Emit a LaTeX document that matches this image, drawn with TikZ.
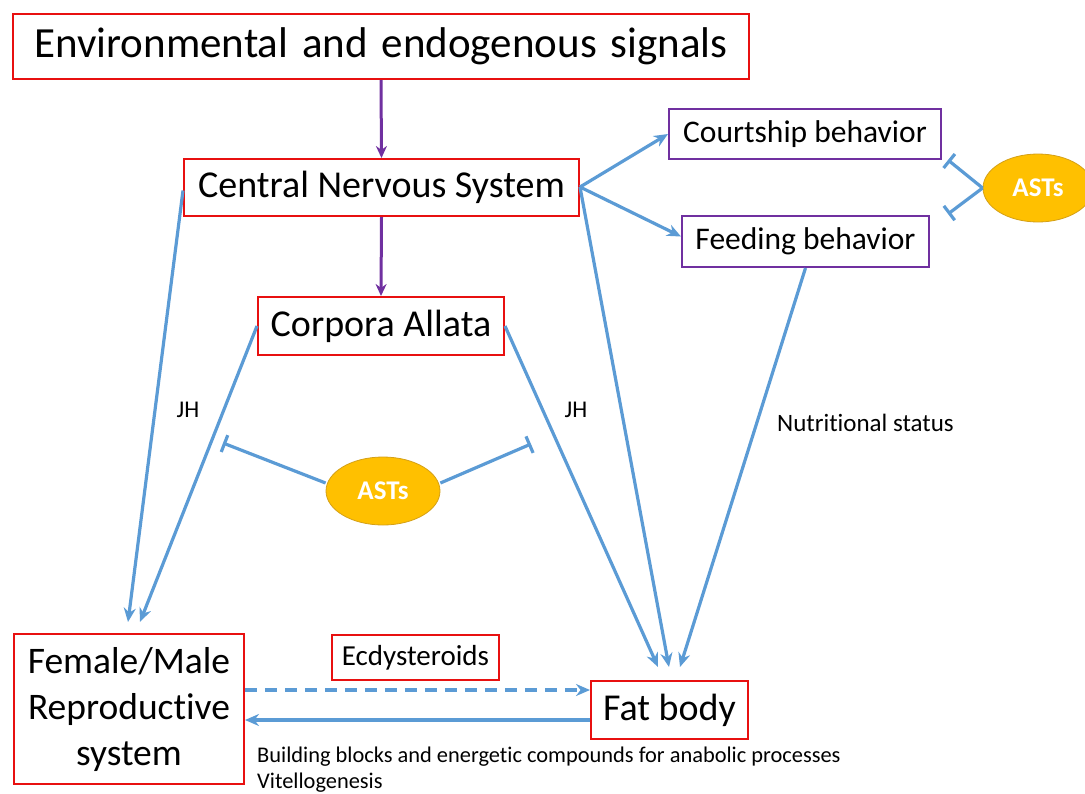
\documentclass[tikz,border=0pt]{standalone}
\usepackage{fontspec}
\setmainfont{Carlito}[Ligatures=NoCommon]
\usetikzlibrary{arrows.meta,shapes.geometric}
\definecolor{rbox}{HTML}{E81010}
\definecolor{pbox}{HTML}{7030A0}
\definecolor{bl}{HTML}{5B9BD5}
\definecolor{gold}{HTML}{FFC000}
\definecolor{goldd}{HTML}{D4A017}
\tikzset{
 redbox/.style={draw=rbox,line width=2pt,inner sep=0pt,anchor=north west},
 purbox/.style={draw=pbox,line width=2pt,inner sep=0pt,anchor=north west},
 asts/.style={ellipse,fill=gold,draw=goldd,line width=0.8pt,minimum width=#1,minimum height=68pt,inner sep=0pt,text=white,font=\bfseries\fontsize{27}{30}\selectfont},
 barr/.style={bl,line width=3.2pt,-{Stealth[length=14pt,width=12pt]}},
 purr/.style={pbox,line width=3pt,-{Stealth[length=12pt,width=11pt]}},
 inhib/.style={bl,line width=3.2pt,-{Bar[width=18pt,line width=3.2pt]}},
 lab/.style={font=\fontsize{24}{28}\selectfont,inner sep=0pt}
}
\begin{document}
\begin{tikzpicture}[x=1pt,y=-1pt]
\useasboundingbox (0,0) rectangle (1085,793);
\node[redbox,minimum width=736pt,minimum height=65pt,font=\fontsize{43}{46}\selectfont] (env) at (12,13) {\raisebox{-2pt}{Environmental\hspace{0.32em}and\hspace{0.32em}endogenous\hspace{0.32em}signals}};
\node[redbox,minimum width=395pt,minimum height=57pt,font=\fontsize{38}{40}\selectfont] (cns) at (183,158) {\raisebox{-2pt}{Central Nervous System}};
\node[redbox,minimum width=246pt,minimum height=58pt,font=\fontsize{38}{40}\selectfont] (ca) at (257,296) {\raisebox{-2pt}{Corpora Allata}};
\node[purbox,minimum width=272pt,minimum height=50pt,font=\fontsize{31.5}{34}\selectfont] (court) at (668,108) {Courtship behavior};
\node[purbox,minimum width=247pt,minimum height=51pt,font=\fontsize{31.5}{34}\selectfont] (feed) at (681,215) {\raisebox{-2pt}{Feeding behavior}};
\node[redbox,minimum width=230pt,minimum height=150pt,align=center,font=\fontsize{37.5}{46}\selectfont] (repro) at (13,633) {Female/Male\\Reproductive\\system};
\node[redbox,minimum width=167pt,minimum height=45pt,font=\fontsize{29}{32}\selectfont] (ecd) at (331,634) {Ecdysteroids};
\node[redbox,minimum width=157pt,minimum height=58pt,font=\fontsize{38}{40}\selectfont] (fat) at (590,680) {\raisebox{-2pt}{Fat body}};
\node[asts=114pt] (ast1) at (383,491) {ASTs};
\node[asts=110pt] (ast2) at (1038,188) {ASTs};
\node[lab] (jh1) at (188,410) {JH};
\node[lab] (jh2) at (576,410) {JH};
\node[lab,anchor=west,font=\fontsize{25}{28}\selectfont] (nut) at (777,423) {Nutritional status};
\node[lab,anchor=west,font=\fontsize{22.4}{26}\selectfont] (bb) at (257,757) {Building blocks and energetic compounds for anabolic processes};
\node[lab,anchor=west,font=\fontsize{22.4}{26}\selectfont] (vit) at (257,783) {Vitellogenesis};
\coordinate (fm1) at (128,622);
\coordinate (fm2) at (140,622);
\coordinate (fb1) at (658,667);
\coordinate (fb2) at (669,667);
\coordinate (fb3) at (680,667);
\coordinate (cnsr) at (580,187);
\coordinate (i1) at (223,443);
\coordinate (i2) at (531,444);
\coordinate (i3) at (948,160);
\coordinate (i4) at (948,214);
% purple
\draw[purr] (env.south) -- (cns.north);
\draw[purr] (cns.south) -- (ca.north);
% blue arrows
\draw[barr] (cns.west) ++(0,3) -- (fm1);
\draw[barr] (ca.west) -- (fm2);
\draw[barr] (ca.east) -- (fb1);
\draw[barr] (cnsr) -- (fb2);
\draw[barr] (feed.south) -- (fb3);
\draw[barr] (cnsr) -- (court.west);
\draw[barr] (cnsr) -- ([yshift=5pt]feed.west);
\draw[barr,dashed,dash pattern=on 12pt off 8pt] (repro.east |- 0,690) -- (fat.west |- 0,690);
\draw[barr] (fat.west |- 0,720) -- (repro.east |- 0,720);
% inhibitions
\draw[inhib] (ast1.west) ++(0,-8) -- (i1);
\draw[inhib] (ast1.east) ++(0,-8) -- (i2);
\draw[inhib] (ast2.west) -- (i3);
\draw[inhib] (ast2.west) -- (i4);
\end{tikzpicture}
\end{document}
